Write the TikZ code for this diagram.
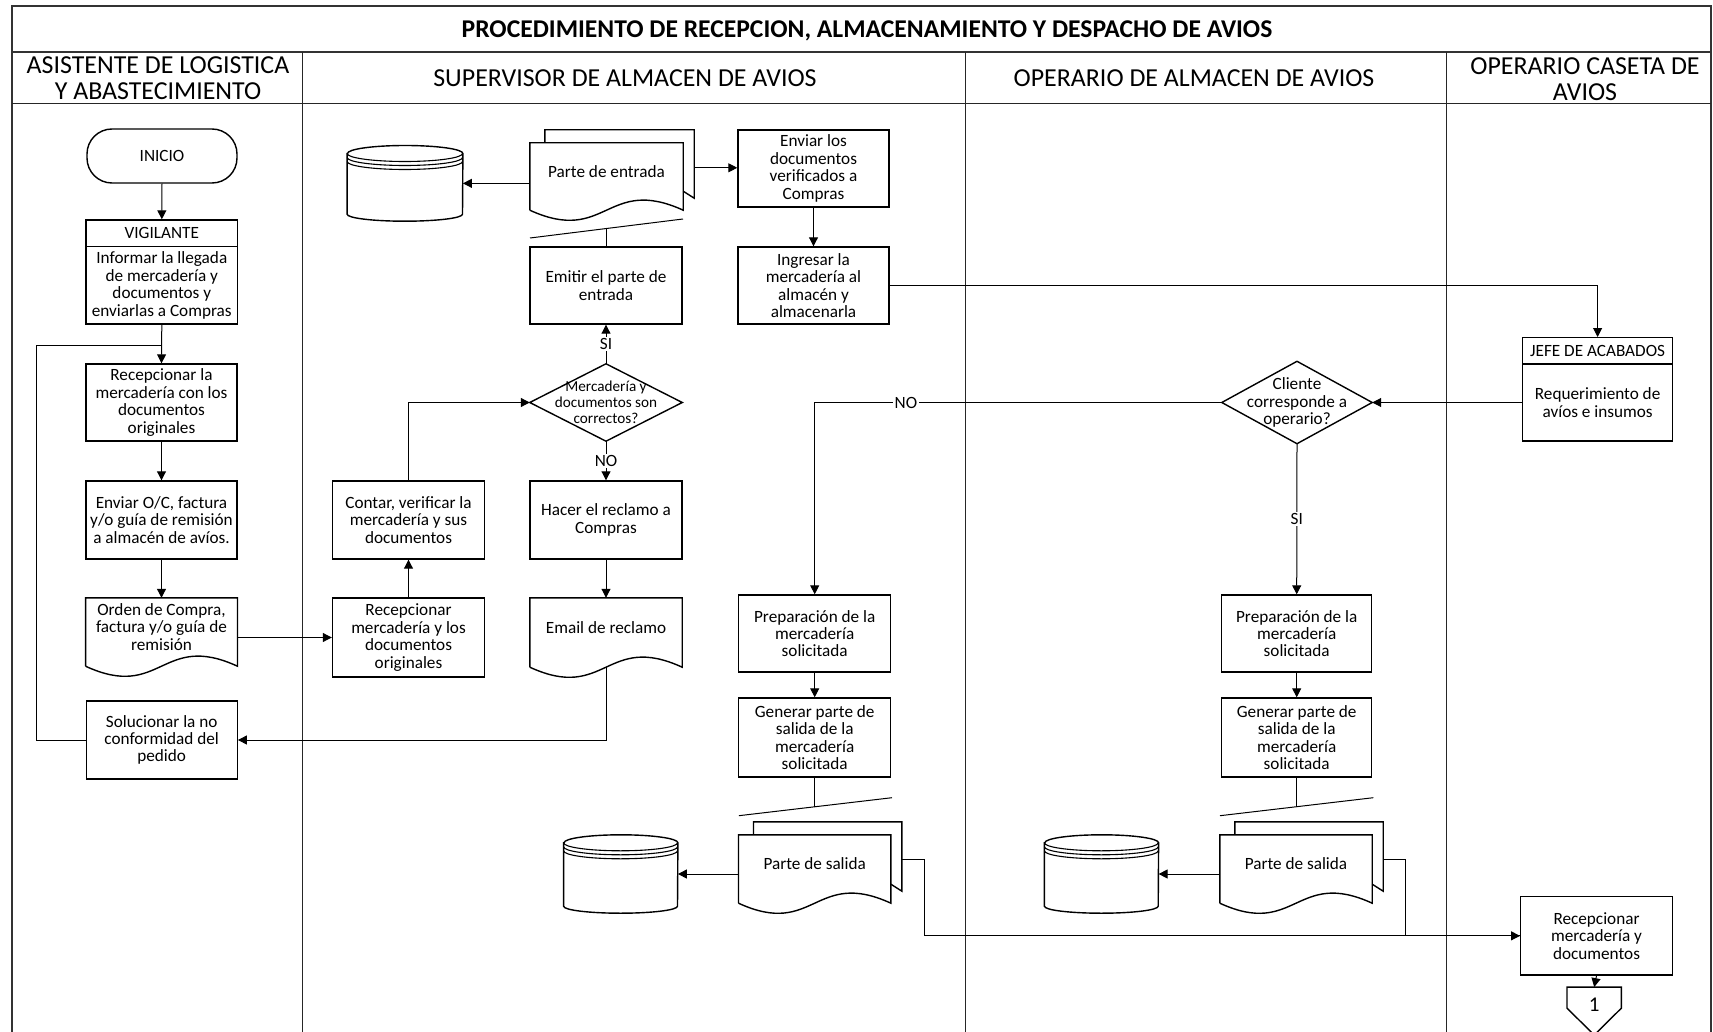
\documentclass[tikz,border=0pt]{standalone}
\usepackage{fontspec}
\setmainfont{Carlito}
\usetikzlibrary{arrows.meta,calc}

\newcommand\txtbox{\fontsize{17.2}{17.4}\selectfont}
\newcommand\txtsmall{\fontsize{15.2}{15.8}\selectfont}
\newcommand\txtlane{\fontsize{25.9}{25.5}\selectfont}
\newcommand\txttitle{\fontsize{25.6}{27}\selectfont\bfseries}
\newcommand\txtbig{\fontsize{21}{22}\selectfont}

\tikzset{
  shapeline/.style={draw=black, line width=1.4pt},
  thinline/.style={draw=black, line width=1.1pt},
  conn/.style={draw=black, line width=1pt},
  arr/.style={conn, -{Triangle[length=9pt,width=9pt]}},
  box/.style={shapeline, rectangle, inner sep=0pt, minimum width=151pt,
              minimum height=77pt, align=center, font=\txtbox},
  headbox/.style={box, minimum height=26.5pt},
  terminal/.style={box, minimum width=150pt, minimum height=54pt, rounded corners=25pt},
  docbody/.style={rectangle, inner sep=0pt, minimum width=152pt,
                  minimum height=58pt, align=center, font=\txtbox},
  decision/.style={rectangle, inner sep=0pt, align=center, font=\txtbox},
  lbl/.style={fill=white, inner sep=1.5pt, font=\txtbox},
  lanehead/.style={align=center, font=\txtlane},
  frameline/.style={draw=black!80, line width=2pt},
  laneline/.style={draw=black!85, line width=1.3pt},
}

% document sheet with a wavy lower edge
\newcommand\docoutline[1]{%
  \draw[shapeline] ($(#1.south west)+(0,10)$) -- (#1.north west) -- (#1.north east)
    -- ($(#1.south east)+(0,10)$)
    .. controls ($(#1.south)+(0,-25)$) and ($(#1.south)+(0,45)$) .. ($(#1.south west)+(0,10)$);}

% second sheet behind a document
\newcommand\backsheet[1]{%
  \draw[shapeline] ($(#1.north west)+(15,0)$) -- ++(0,-13)
    -| ($(#1.south east)+(11,-2)$) -- ($(#1.south east)+(0,-9)$);
  \coordinate (#1-out) at ($(#1.north east)+(11,25)$);}

% decision diamond drawn on a rectangular node
\newcommand\diamondoutline[1]{%
  \draw[shapeline] (#1.north) -- (#1.east) -- (#1.south) -- (#1.west) -- cycle;}

% stored data cylinder: name, centre x, centre y, width, height
\newcommand\database[5]{%
  \node[inner sep=0pt, minimum width=#4pt, minimum height=#5pt] (#1) at (#2,#3) {};
  \pgfmathsetmacro\dbrx{#4/2}%
  \draw[shapeline, fill=white] ($(#1.north west)+(0,8)$) -- ($(#1.south west)+(0,-7)$)
     arc[start angle=180, end angle=360, x radius=\dbrx pt, y radius=7pt]
     -- ($(#1.north east)+(0,8)$)
     arc[start angle=0, end angle=180, x radius=\dbrx pt, y radius=8pt] -- cycle;
  \foreach \dy in {8,12,16}
    \draw[thinline] ($(#1.north west)+(0,\dy)$)
      arc[start angle=180, end angle=360, x radius=\dbrx pt, y radius=8pt];}

\begin{document}
\begin{tikzpicture}[x=1pt,y=-1pt]
\useasboundingbox (0,0) rectangle (1713,1032);

% ---------- frame, title and swimlanes ----------
\draw[frameline] (12,1040) -- (12,6) -- (1711,6) -- (1711,1040);
\draw[frameline] (12,51.7) -- (1711,51.7);
\draw[laneline] (12,103.3) -- (1711,103.3);
\foreach \x in {302.7,965.5,1446.5} \draw[laneline] (\x,51.7) -- (\x,1040);

\node[font=\txttitle] (title) at (867,31) {PROCEDIMIENTO DE RECEPCION, ALMACENAMIENTO Y DESPACHO DE AVIOS};
\node[lanehead] (laneA) at (158,78) {ASISTENTE DE LOGISTICA\\Y ABASTECIMIENTO};
\node[lanehead] (laneB) at (625,78) {SUPERVISOR DE ALMACEN DE AVIOS};
\node[lanehead] (laneC) at (1194,78) {OPERARIO DE ALMACEN DE AVIOS};
\node[lanehead] (laneD) at (1585,79) {OPERARIO CASETA DE\\AVIOS};

% ---------- asistente de logistica ----------
\node[terminal] (inicio) at (162,156) {INICIO};
\node[headbox, minimum width=151.5pt, minimum height=26.7pt] (vighead) at (161.8,233.35) {VIGILANTE};
\node[box, minimum width=151.5pt, minimum height=77.3pt] (vig) at (161.8,285.35)
  {Informar la llegada\\de mercadería y\\documentos y\\enviarlas a Compras};
\node[box] (recA) at (161.5,402.5) {Recepcionar la\\mercadería con los\\documentos\\originales};
\node[box, minimum height=78pt] (envoc) at (161.5,520) {Enviar O/C, factura\\y/o guía de remisión\\a almacén de avíos.};
\node[docbody, minimum width=151.5pt] (orden) at (161.5,627) {Orden de Compra,\\factura y/o guía de\\remisión};
\docoutline{orden}
\node[box, minimum height=78pt] (soluc) at (161.7,740) {Solucionar la no\\conformidad del\\pedido};

% ---------- supervisor de almacen ----------
\database{dbA}{405}{183.35}{115.4}{75.3}
\node[docbody, minimum width=153pt, minimum height=57pt] (entrada) at (606.5,171.5) {Parte de entrada};
\backsheet{entrada}
\docoutline{entrada}
\node[box, minimum width=152pt] (emitir) at (606,285.5) {Emitir el parte de\\entrada};
\node[decision, minimum width=152pt, minimum height=77pt, font=\txtsmall] (chk) at (606,402.5)
  {Mercadería y\\documentos son\\correctos?};
\diamondoutline{chk}
\node[box, minimum width=152pt, minimum height=78pt] (hacer) at (606,520) {Hacer el reclamo a\\Compras};
\node[docbody, minimum height=59pt] (email) at (606,627.5) {Email de reclamo};
\docoutline{email}
\node[box, minimum width=152pt, minimum height=78pt] (contar) at (408.5,520) {Contar, verificar la\\mercadería y sus\\documentos};
\node[box, minimum width=152pt, minimum height=79pt] (recB) at (408.5,637.5) {Recepcionar\\mercadería y los\\documentos\\originales};

\node[box] (enviar) at (813.5,168.5) {Enviar los\\documentos\\verificados a\\Compras};
\node[box] (ingresar) at (813.5,285.5) {Ingresar la\\mercadería al\\almacén y\\almacenarla};
\node[box, minimum width=152pt] (prepA) at (814.7,633.5) {Preparación de la\\mercadería\\solicitada};
\node[box, minimum width=152pt, minimum height=79pt] (genA) at (814.7,737.5) {Generar parte de\\salida de la\\mercadería\\solicitada};
\database{dbB}{620.75}{874}{113.9}{78}
\node[docbody] (salA) at (814.7,864) {Parte de salida};
\backsheet{salA}
\docoutline{salA}

% ---------- operario de almacen ----------
\node[decision, minimum width=150pt, minimum height=82pt] (cli) at (1297,402.5) {Cliente\\corresponde a\\operario?};
\diamondoutline{cli}
\node[box, minimum width=150pt] (prepB) at (1296.7,633.5) {Preparación de la\\mercadería\\solicitada};
\node[box, minimum width=150pt, minimum height=79pt] (genB) at (1296.7,737.5) {Generar parte de\\salida de la\\mercadería\\solicitada};
\database{dbC}{1101.5}{874}{113.8}{78}
\node[docbody] (salB) at (1296,864) {Parte de salida};
\backsheet{salB}
\docoutline{salB}

% ---------- operario caseta ----------
\node[headbox, minimum width=150pt, minimum height=26.3pt] (jefehead) at (1597.6,350.85) {JEFE DE ACABADOS};
\node[box, minimum width=150pt] (jefe) at (1597.6,402.5) {Requerimiento de\\avíos e insumos};
\node[box, minimum width=151.5pt, minimum height=78.3pt] (recC) at (1596.5,935.85) {Recepcionar\\mercadería y\\documentos};
% off-page reference: the node spans the upper part, the point runs off the sheet
\node[inner sep=0pt, minimum width=54pt, minimum height=34pt, font=\txtbig] (off) at (1594.2,1004.3) {1};
\draw[shapeline] ($(off.north west)+(0,21)$) -- (off.north west) -- (off.north east)
  -- ($(off.north east)+(0,21)$) -- ($(off.north)+(0,48)$) -- cycle;

% ---------- connectors ----------
\coordinate (loopTop) at (36.6,345);
\draw[arr] (inicio.south) -- (vighead.north);
\draw[arr] (vig.south) -- (recA.north);
\draw[conn] (soluc.west) -| (loopTop) -- (loopTop -| recA.north);
\draw[arr] (recA) -- (envoc);
\draw[arr] (envoc) -- (orden);
\draw[arr] (orden.east |- recB.west) -- (recB.west);
\draw[arr] (recB) -- (contar);
\draw[arr] (contar.north) |- (chk.west);
\draw[arr] (chk.north) -- node[lbl] (siA) {SI} (emitir.south);
\draw[arr] (chk.south) -- node[lbl] (noA) {NO} (hacer.north);
\draw[arr] (hacer) -- (email);
\draw[arr] ($(email.south)+(0,10)$) |- (soluc.east);

% tear marks below the issued records
\coordinate (tearA1) at (530,238);   \coordinate (tearA2) at (683,219);
\coordinate (tearB1) at (738.8,815.7); \coordinate (tearB2) at (892,797.7);
\coordinate (tearC1) at (1220,815.7);  \coordinate (tearC2) at (1373.3,797.7);
\draw[conn] (tearA1) -- (tearA2);
\draw[conn] (emitir.north) -- (emitir.north |- 0,228.6);
\draw[conn] (tearB1) -- (tearB2);
\draw[conn] (genA.south) -- (genA.south |- 0,806.7);
\draw[conn] (tearC1) -- (tearC2);
\draw[conn] (genB.south) -- (genB.south |- 0,806.7);

\draw[arr] (entrada.west |- dbA.east) -- (dbA.east);
\draw[arr] (entrada-out) -- (entrada-out -| enviar.west);
\draw[arr] (enviar) -- (ingresar);
\draw[arr] (ingresar.east) -| (jefehead.north);
\draw[arr] (jefe.west) -- (cli.east);
\draw[arr] (cli.west) -| node[lbl, pos=0.388] (noB) {NO} (prepA.north);
\draw[arr] (cli.south) -- node[lbl] (siB) {SI} (prepB.north);
\draw[arr] (prepA) -- (genA);
\draw[arr] (prepB) -- (genB);
\draw[arr] (salA.west |- dbB.east) -- (dbB.east);
\draw[arr] (salB.west |- dbC.east) -- (dbC.east);
\draw[arr] (salA-out) -- ++(22.6,0) |- (recC.west);
\draw[conn] (salB-out) -- ++(22,0) |- (recC.west);
\draw[arr] (recC.south) -- (off.north);
\end{tikzpicture}
\end{document}
